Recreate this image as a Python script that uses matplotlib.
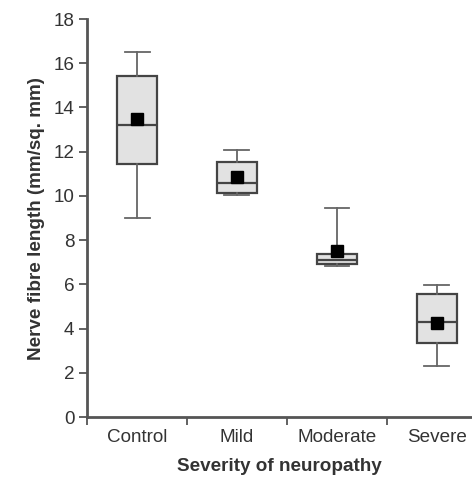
import matplotlib
matplotlib.use('Agg')
import matplotlib.pyplot as plt

plt.rcParams['font.family'] = ['Liberation Sans', 'DejaVu Sans']

groups = ['Control', 'Mild', 'Moderate', 'Severe']
whisker_low = [9.0, 10.05, 6.85, 2.3]
q1 = [11.45, 10.13, 6.94, 3.33]
median = [13.2, 10.6, 7.12, 4.29]
q3 = [15.43, 11.53, 7.39, 5.57]
whisker_high = [16.5, 12.09, 9.45, 5.96]
means = [13.47, 10.84, 7.49, 4.27]

stats = []
for i, g in enumerate(groups):
    stats.append({
        'label': g,
        'whislo': whisker_low[i],
        'q1': q1[i],
        'med': median[i],
        'q3': q3[i],
        'whishi': whisker_high[i],
        'mean': means[i],
        'fliers': [],
    })

text_col = '#333333'
line_col = '#555555'
fs = 13.6

fig = plt.figure(figsize=(4.72, 4.79), dpi=100)
ax = fig.add_axes([87 / 472, 1 - 417 / 479, 1 - 87 / 472, (417 - 19) / 479])

positions = [0.5, 1.5, 2.5, 3.5]
ax.bxp(stats, positions=positions, widths=0.4, capwidths=0.25,
       showmeans=True, patch_artist=True,
       boxprops=dict(facecolor='#e2e2e2', edgecolor='#444444', linewidth=1.6),
       medianprops=dict(color='#444444', linewidth=1.6),
       whiskerprops=dict(color='#666666', linewidth=1.3),
       capprops=dict(color='#666666', linewidth=1.3),
       meanprops=dict(marker='s', markerfacecolor='black', markeredgecolor='black',
                      markersize=8))

ax.set_xlim(0, 3.85)
ax.set_ylim(0, 18)
ax.set_yticks(range(0, 19, 2))
ax.set_xticks([0, 1, 2, 3])
ax.set_xticklabels([])
ax.set_xticks(positions, minor=True)
ax.set_xticklabels(groups, minor=True)
ax.tick_params(axis='x', which='minor', length=0, pad=9, labelsize=fs, labelcolor=text_col)
ax.tick_params(axis='x', which='major', length=6, width=1.3, color=line_col)
ax.tick_params(axis='y', length=6, width=1.3, color=line_col, pad=3,
               labelsize=fs, labelcolor=text_col)

for side in ['top', 'right']:
    ax.spines[side].set_visible(False)
for side in ['left', 'bottom']:
    ax.spines[side].set_color(line_col)
    ax.spines[side].set_linewidth(2)
ax.spines['left'].set_bounds(0, 18)

ax.set_xlabel('Severity of neuropathy', fontsize=fs, fontweight='bold',
              color=text_col, labelpad=8)
ax.set_ylabel('Nerve fibre length (mm/sq. mm)', fontsize=fs, fontweight='bold',
              color=text_col, labelpad=6)

fig.savefig('out.png', dpi=100)
